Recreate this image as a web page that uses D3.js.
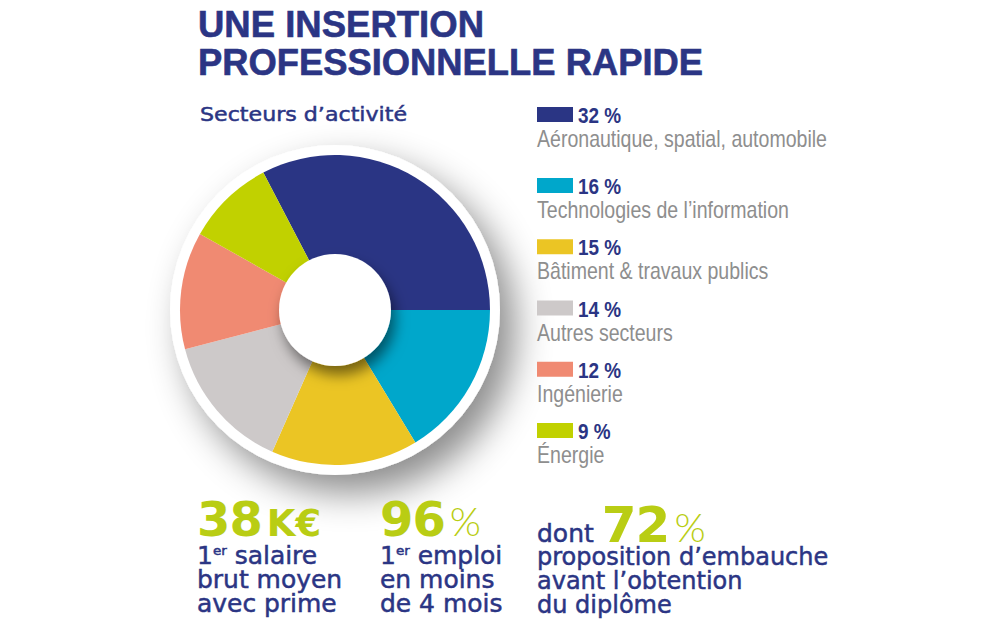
<!DOCTYPE html>
<html>
<head>
<meta charset="utf-8">
<script src="https://cdn.jsdelivr.net/npm/d3@7"></script>
<style>
  body { margin: 0; background: #fff; }
  svg { display: block; }
</style>
</head>
<body>
<script>
// Chart data
const sectors = ["Aéronautique, spatial, automobile", "Technologies de l’information", "Bâtiment & travaux publics", "Autres secteurs", "Ingénierie", "Énergie"];
const shares = [32, 16, 15, 14, 12, 9];
const sectorColors = ["#2a3584", "#00a7cb", "#ebc524", "#cdc9c9", "#f08a72", "#c1d100"];

const statValues = ["38", "96", "72"];
const statUnits = ["K€", "%", "%"];
const statPrefix = ["", "", "dont"];
const statLines = [
    ["1|er| salaire", "brut moyen", "avec prime"],
    ["1|er| emploi", "en moins", "de 4 mois"],
    ["proposition d’embauche", "avant l’obtention", "du diplôme"]
];

const navy = "#2b3584";
const green = "#b9cd14";
const grey = "#8e8e8e";

const width = 1000, height = 636;

const svg = d3.select("body")
    .append("svg")
    .attr("width", width)
    .attr("height", height);

const defs = svg.append("defs");

// soft drop shadow for the donut
const shadow = defs.append("filter")
    .attr("id", "donutShadow")
    .attr("x", "-40%").attr("y", "-40%")
    .attr("width", "190%").attr("height", "190%");
shadow.append("feDropShadow")
    .attr("dx", 15).attr("dy", 18)
    .attr("stdDeviation", 18)
    .attr("flood-color", "#000")
    .attr("flood-opacity", 0.45);

// shadow cast by the centre hole
const holeShadow = defs.append("filter")
    .attr("id", "holeShadow")
    .attr("x", "-50%").attr("y", "-50%")
    .attr("width", "200%").attr("height", "200%");
holeShadow.append("feDropShadow")
    .attr("dx", 4).attr("dy", 9)
    .attr("stdDeviation", 7)
    .attr("flood-color", "#000")
    .attr("flood-opacity", 0.5);

// Title
const title = svg.append("g")
    .style("font-family", "'Liberation Sans', Arial, sans-serif")
    .style("font-weight", "bold")
    .style("font-size", "36px")
    .attr("fill", navy)
    .attr("stroke", navy)
    .attr("stroke-width", 0.6);

title.append("text")
    .attr("x", 198).attr("y", 37)
    .attr("textLength", 286)
    .attr("lengthAdjust", "spacingAndGlyphs")
    .text("UNE INSERTION");

title.append("text")
    .attr("x", 198).attr("y", 75)
    .attr("textLength", 505)
    .attr("lengthAdjust", "spacingAndGlyphs")
    .text("PROFESSIONNELLE RAPIDE");

svg.append("text")
    .attr("x", 200).attr("y", 121)
    .attr("fill", navy)
    .attr("stroke", navy)
    .attr("stroke-width", 0.5)
    .style("font-family", "'DejaVu Sans', sans-serif")
    .style("font-size", "20px")
    .attr("textLength", 207)
    .attr("lengthAdjust", "spacingAndGlyphs")
    .text("Secteurs d’activité");

// Donut
const cx = 335, cy = 310;
const outerR = 155, ringR = 165, holeR = 56;

const donut = svg.append("g")
    .attr("transform", `translate(${cx},${cy})`);

donut.append("circle")
    .attr("r", ringR)
    .attr("fill", "#fff")
    .attr("filter", "url(#donutShadow)");

const startDeg = 90 - shares[0] / d3.sum(shares) * 360;
const pie = d3.pie()
    .sort(null)
    .startAngle(startDeg * Math.PI / 180)
    .endAngle(startDeg * Math.PI / 180 + 2 * Math.PI);

const arc = d3.arc()
    .innerRadius(0)
    .outerRadius(outerR);

donut.selectAll("path.slice")
    .data(pie(shares))
    .enter()
    .append("path")
    .attr("class", "slice")
    .attr("d", arc)
    .attr("fill", (d, i) => sectorColors[i]);

donut.append("circle")
    .attr("r", holeR)
    .attr("fill", "#fff")
    .attr("filter", "url(#holeShadow)");

// Legend
const legendY = d3.scaleLinear().domain([1, 5]).range([178, 423]);
const rowTop = i => i === 0 ? 107 : legendY(i);

const legend = svg.append("g");
const rows = legend.selectAll("g.row")
    .data(sectors)
    .enter()
    .append("g")
    .attr("class", "row")
    .attr("transform", (d, i) => `translate(537,${rowTop(i)})`);

rows.append("rect")
    .attr("width", 36)
    .attr("height", 15)
    .attr("fill", (d, i) => sectorColors[i]);

rows.append("text")
    .attr("transform", "translate(41,16) scale(0.86,1)")
    .attr("fill", navy)
    .style("font-family", "'Liberation Sans', Arial, sans-serif")
    .style("font-weight", "bold")
    .style("font-size", "22px")
    .text((d, i) => `${shares[i]} %`);

rows.append("text")
    .attr("transform", "translate(0,40) scale(0.85,1)")
    .attr("fill", grey)
    .style("font-family", "'Liberation Sans', Arial, sans-serif")
    .style("font-size", "23px")
    .text(d => d);

// Key figures
const statX = [197, 380, 537];
const statScale = [1.04, 1.04, 1.0];
const statFont = "'DejaVu Sans', sans-serif";

statValues.forEach((v, i) => {
    const g = svg.append("g").attr("transform", `translate(${statX[i]},0)`);
    const big = g.append("text")
        .attr("y", i === 2 ? 542 : 536)
        .style("font-family", statFont);
    if (statPrefix[i]) {
        big.append("tspan")
            .attr("fill", navy)
            .attr("stroke", navy)
            .attr("stroke-width", 0.5)
            .style("font-size", "25px")
            .text(statPrefix[i]);
    }
    big.append("tspan")
        .attr("fill", green)
        .attr("dx", statPrefix[i] ? 8 : 0)
        .style("font-weight", "bold")
        .style("font-size", i === 2 ? "50px" : "48px")
        .style("letter-spacing", "-1px")
        .text(v);
    big.append("tspan")
        .attr("fill", green)
        .attr("dx", 5)
        .style("font-weight", i === 0 ? "bold" : "300")
        .style("font-family", i === 0 ? statFont : "Lato, 'Liberation Sans', sans-serif")
        .style("font-size", i === 0 ? "37px" : "40px")
        .text(statUnits[i]);

    statLines[i].forEach((line, j) => {
        const t = g.append("text")
            .attr("transform", `translate(0,${(i === 2 ? 565 : 564) + j * 24}) scale(${statScale[i]},1)`)
            .attr("fill", navy)
            .attr("stroke", navy)
            .attr("stroke-width", 0.5)
            .style("font-family", statFont)
            .style("font-size", "24px");
        const parts = line.split("|");
        if (parts.length === 3) {
            t.append("tspan").text(parts[0]);
            t.append("tspan")
                .attr("dy", -9)
                .style("font-size", "13px")
                .text(parts[1]);
            t.append("tspan")
                .attr("dy", 9)
                .text(parts[2]);
        } else {
            t.text(line);
        }
    });
});
</script>
</body>
</html>
